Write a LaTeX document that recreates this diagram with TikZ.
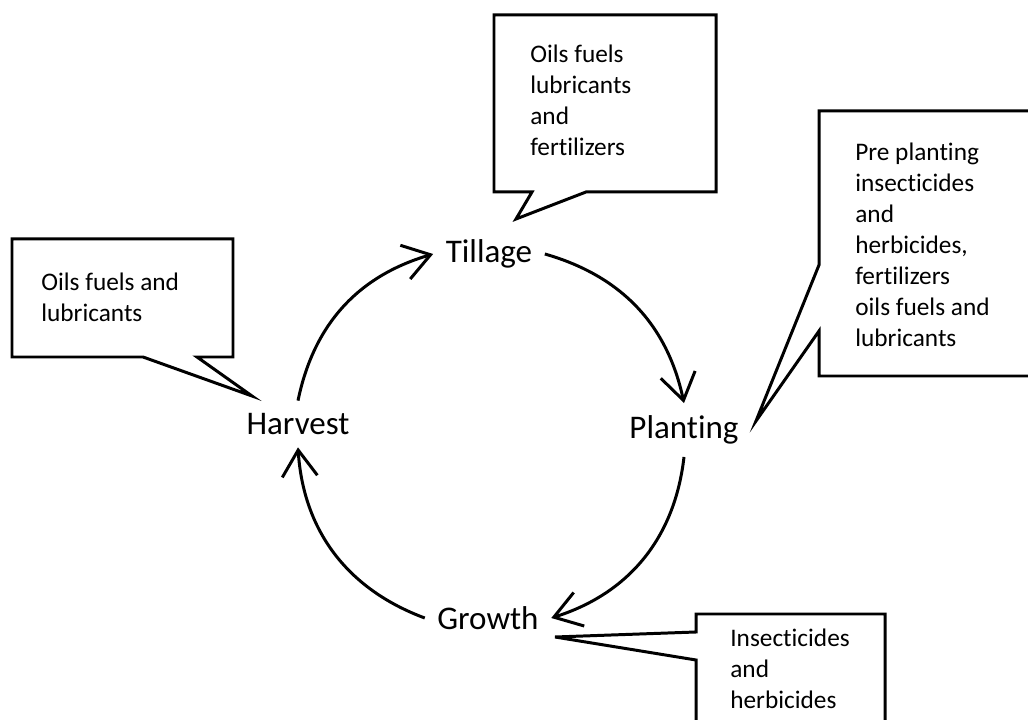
\documentclass[tikz,border=0pt]{standalone}
\usepackage{fontspec}
\setmainfont{Carlito}[Ligatures=NoCommon]
\usetikzlibrary{arrows.meta}
\begin{document}
\begin{tikzpicture}[x=0.02cm,y=0.02cm]
        \tikzset{
          stage/.style={inner sep=7pt,font=\fontsize{18.8pt}{22pt}\selectfont},
          note/.style={inner sep=0pt,anchor=north west,align=left,
            font=\fontsize{14.4pt}{17.6pt}\selectfont},
          bubble/.style={line width=1.7pt,line join=miter},
          cycle arrow/.style={line width=1.7pt,-{Straight Barb[length=15pt,width=20pt,line width=1.7pt]}},
        }
        \clip (0,0) rectangle (1028,720);
        %STAGES
        \node[stage] (tillage) at (489,466) {Tillage};
        \node[stage] (planting) at (684,290) {Planting};
        \node[stage] (growth) at (488,102) {Growth};
        \node[stage] (harvest) at (298,296) {Harvest};
        %CYCLE
        \draw[cycle arrow] (harvest.north) to[bend left=31] (tillage.west);
        \draw[cycle arrow] (tillage.east) to[bend left=31] (planting.north);
        \draw[cycle arrow] (planting.south) to[bend left=33] (growth.east);
        \draw[cycle arrow] (growth.west) to[bend left=33] (harvest.south);
        %CALLOUTS
        \draw[bubble] (494,705) -- (716,705) -- (716,528) -- (586,528)
          -- (516,501) -- (532,528) -- (494,528) -- cycle;
        \node[note] (tillagenote) at (530,675) {Oils fuels\\lubricants\\and\\fertilizers};
        \draw[bubble] (819,609) -- (1040,609) -- (1040,344) -- (819,344)
          -- (819,389) -- (756,299) -- (819,455) -- cycle;
        \node[note] (plantingnote) at (855,577) {Pre planting\\insecticides\\and\\herbicides,\\fertilizers\\oils fuels and\\lubricants};
        \draw[bubble] (696,106) -- (885,106) -- (885,-20) -- (696,-20)
          -- (696,60) -- (555,83) -- (696,88) -- cycle;
        \node[note] (growthnote) at (730,91) {Insecticides\\and\\herbicides};
        \draw[bubble] (12,481) -- (233,481) -- (233,363) -- (197,363)
          -- (252,324) -- (143,363) -- (12,363) -- cycle;
        \node[note] (harvestnote) at (41,447) {Oils fuels and\\lubricants};
\end{tikzpicture}
\end{document}
